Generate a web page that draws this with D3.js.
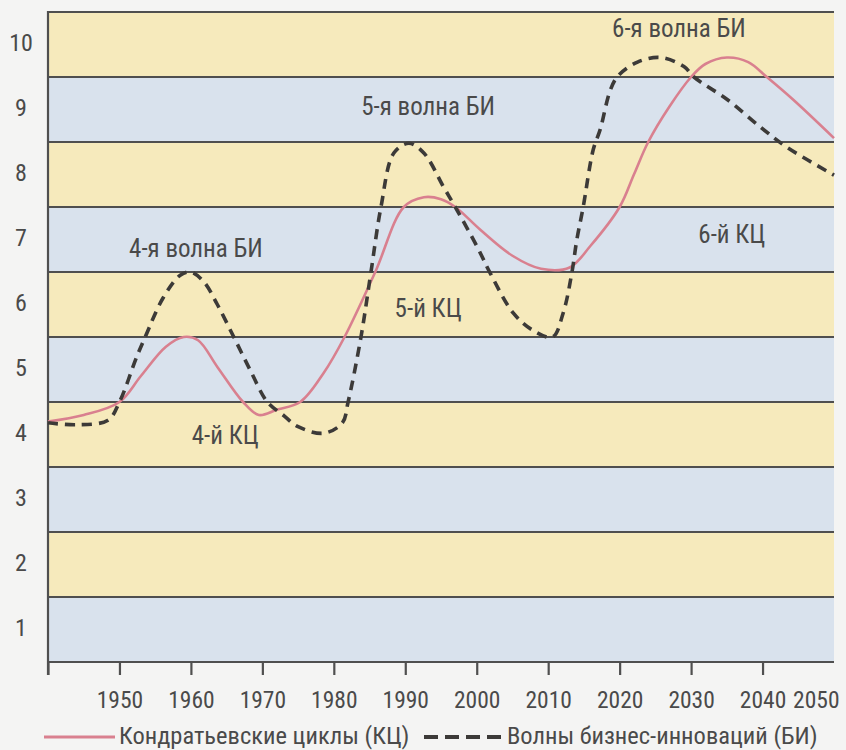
<!DOCTYPE html>
<html lang="ru">
<head>
<meta charset="utf-8">
<script src="https://cdn.jsdelivr.net/npm/d3@7"></script>
<style>
  html, body { margin: 0; padding: 0; background: #f4f4f3; }
  svg { display: block; }
  text { font-family: "Liberation Sans Narrow", "Arial Narrow", "Roboto Condensed", "DejaVu Sans Condensed", sans-serif; fill: #4a4a4a; }
</style>
</head>
<body>
<svg id="chart" width="846" height="750"></svg>
<script>
// Kondratiev cycles (solid) and business-innovation waves (dashed)
const kcYears  = [1940, 1945, 1950, 1953, 1956.5, 1959, 1961, 1963.7, 1967.3, 1969.5, 1972, 1975.3, 1978.6, 1981.5, 1985.8, 1989.8, 1992.6, 1995, 1997, 2000.5, 2005, 2009, 2013, 2015.9, 2020, 2022, 2024, 2027, 2030, 2032, 2035, 2038, 2040.6, 2044.3, 2050];
const kcValues = [4.2, 4.3, 4.5, 4.9, 5.35, 5.5, 5.45, 5.04, 4.5, 4.3, 4.38, 4.5, 4.95, 5.5, 6.5, 7.5, 7.65, 7.62, 7.5, 7.15, 6.75, 6.55, 6.57, 6.9, 7.5, 8.0, 8.5, 9.05, 9.5, 9.7, 9.8, 9.73, 9.5, 9.15, 8.56];

const biYears  = [1940, 1944, 1948.4, 1950, 1952.4, 1953.6, 1956.1, 1958.5, 1960, 1961.8, 1963.7, 1966, 1968.3, 1970.7, 1972.9, 1975, 1978.6, 1981.2, 1982, 1983.8, 1985.2, 1986.6, 1988.4, 1990.5, 1992.6, 1995.4, 1997, 2000.1, 2001.9, 2005.1, 2007.9, 2010.6, 2012.1, 2013.3, 2014, 2014.9, 2016.3, 2017.3, 2018.7, 2019.8, 2022.5, 2025.7, 2029, 2030.4, 2035.1, 2039.7, 2043.4, 2050];
const biValues = [4.18, 4.15, 4.22, 4.5, 5.19, 5.5, 6.1, 6.45, 6.5, 6.35, 6.0, 5.5, 4.99, 4.5, 4.3, 4.12, 4.02, 4.18, 4.5, 5.5, 6.5, 7.5, 8.33, 8.48, 8.33, 7.8, 7.5, 6.88, 6.48, 5.87, 5.6, 5.5, 5.87, 6.48, 6.99, 7.5, 8.38, 8.7, 9.3, 9.52, 9.73, 9.8, 9.66, 9.5, 9.15, 8.73, 8.42, 7.99];

const levels     = [1, 2, 3, 4, 5, 6, 7, 8, 9, 10];
const yearTicks  = [1940, 1950, 1960, 1970, 1980, 1990, 2000, 2010, 2020, 2030, 2040, 2050];

const waveLabels  = ["4-я волна БИ", "5-я волна БИ", "6-я волна БИ"];
const waveAt      = [[1960.7, 6.73], [1993.2, 8.915], [2028.3, 10.115]];
const cycleLabels = ["4-й КЦ", "5-й КЦ", "6-й КЦ"];
const cycleAt     = [[1964.8, 3.85], [1993.2, 5.81], [2035.7, 6.95]];

const legendNames = ["Кондратьевские циклы (КЦ)", "Волны бизнес-инноваций (БИ)"];

const fontStack = "'Liberation Sans Narrow','Arial Narrow','Roboto Condensed',sans-serif";
const svg = d3.select("#chart");
const x = d3.scaleLinear().domain([1940, 2050]).range([48, 834]);
const y = d3.scaleLinear().domain([0.5, 10.5]).range([662, 12]);

const yellow = "#f6eabc", blue = "#d9e2ed", rule = "#4f4f4f";

// horizontal bands
svg.append("g").selectAll("rect").data(levels).join("rect")
  .attr("x", x(1940)).attr("width", x(2050) - x(1940))
  .attr("y", d => y(d + 0.5)).attr("height", d => y(d - 0.5) - y(d + 0.5))
  .attr("fill", d => d % 2 === 0 ? yellow : blue);

// band separators
svg.append("g").selectAll("line").data(levels).join("line")
  .attr("x1", x(1940)).attr("x2", x(2050))
  .attr("y1", d => y(d + 0.5)).attr("y2", d => y(d + 0.5))
  .attr("stroke", rule).attr("stroke-width", 2);

// level labels
const yAxis = svg.append("g").attr("transform", `translate(21,-2)`)
  .call(d3.axisLeft(y).tickValues(levels).tickSize(0).tickPadding(0));
yAxis.select(".domain").remove();
yAxis.selectAll("text").attr("text-anchor", "middle").attr("dy", "0.35em")
  .attr("font-size", 24).attr("fill", "#4a4a4a").style("font-family", fontStack);

// time axis
const xAxis = svg.append("g").attr("transform", `translate(0,${y(0.5)})`)
  .call(d3.axisBottom(x).tickValues(yearTicks).tickSize(13).tickPadding(0)
    .tickFormat(d => d === 1940 ? "" : d));
xAxis.select(".domain").attr("stroke", rule).attr("stroke-width", 2.2).attr("d", `M${x(1940)},0H${x(2050)}`);
xAxis.selectAll(".tick line").attr("stroke", rule).attr("stroke-width", 2.2);
xAxis.selectAll(".tick").filter(d => d === 2050).select("line").remove();
xAxis.selectAll(".tick text").attr("y", 46).attr("dy", 0).attr("font-size", 23.5).attr("fill", "#4a4a4a")
  .style("font-family", fontStack);
xAxis.selectAll(".tick").filter(d => d === 2050).select("text").attr("text-anchor", "end").attr("x", 5);

// left axis line
svg.append("line").attr("x1", x(1940)).attr("x2", x(1940))
  .attr("y1", y(10.5) - 1).attr("y2", y(0.5) + 13)
  .attr("stroke", rule).attr("stroke-width", 2.2);

// curves
const line = d3.line().x(d => x(d[0])).y(d => y(d[1])).curve(d3.curveCatmullRom.alpha(0.5));
const kc = kcYears.map((t, i) => [t, kcValues[i]]);
const bi = biYears.map((t, i) => [t, biValues[i]]);

svg.append("path").attr("d", line(kc)).attr("fill", "none")
  .attr("stroke", "#d9808f").attr("stroke-width", 2.6);
svg.append("path").attr("d", line(bi)).attr("fill", "none")
  .attr("stroke", "#3c3a38").attr("stroke-width", 3.6).attr("stroke-dasharray", "10,7");

// annotations
svg.append("g").selectAll("text").data(waveLabels).join("text")
  .attr("x", (d, i) => x(waveAt[i][0])).attr("y", (d, i) => y(waveAt[i][1]))
  .attr("text-anchor", "middle").attr("font-size", 25).text(d => d);
svg.append("g").selectAll("text").data(cycleLabels).join("text")
  .attr("x", (d, i) => x(cycleAt[i][0])).attr("y", (d, i) => y(cycleAt[i][1]))
  .attr("text-anchor", "middle").attr("font-size", 25).text(d => d);

// legend
const lg = svg.append("g");
lg.append("line").attr("x1", 44).attr("x2", 115).attr("y1", 737).attr("y2", 737)
  .attr("stroke", "#d9808f").attr("stroke-width", 3.2);
lg.append("text").attr("x", 119).attr("y", 744).attr("font-size", 24.5).text(legendNames[0]);
lg.append("line").attr("x1", 424).attr("x2", 503).attr("y1", 737).attr("y2", 737)
  .attr("stroke", "#3c3a38").attr("stroke-width", 4).attr("stroke-dasharray", "14,7");
lg.append("text").attr("x", 507).attr("y", 744).attr("font-size", 24.5).text(legendNames[1]);
</script>
</body>
</html>
